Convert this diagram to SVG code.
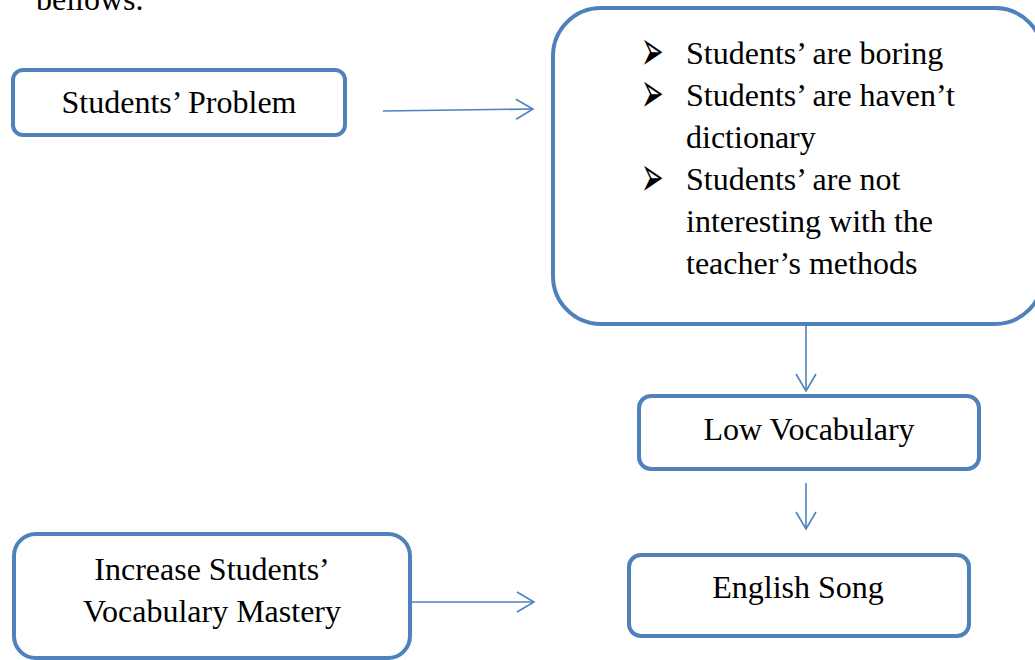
<svg xmlns="http://www.w3.org/2000/svg" width="1035" height="660" viewBox="0 0 1035 660">
<style>
.box{fill:#fff;stroke:#4F81BD;stroke-width:4}
.t{font-family:"Liberation Serif","Times New Roman",serif;font-size:32px;fill:#000}
.c{text-anchor:middle}
.b{font-family:"DejaVu Sans",sans-serif;font-size:27px;fill:#000}
.con{stroke:#4F81BD;stroke-width:1.6;fill:none}
</style>
<defs>
<marker id="ah" markerUnits="userSpaceOnUse" markerWidth="20" markerHeight="24" refX="17" refY="10" orient="auto" overflow="visible">
<path d="M0,0 L17,10 L0,20" fill="none" stroke="#4F81BD" stroke-width="1.6"/>
</marker>
</defs>
<rect width="1035" height="660" fill="#fff"/>
<text class="t" x="36" y="10">bellows.</text>
<g id="connectors">
<line class="con" x1="383" y1="111" x2="533" y2="109" marker-end="url(#ah)"/>
<line class="con" x1="806" y1="325" x2="806" y2="391" marker-end="url(#ah)"/>
<line class="con" x1="806" y1="483" x2="806" y2="529" marker-end="url(#ah)"/>
<line class="con" x1="412" y1="602" x2="534" y2="602" marker-end="url(#ah)"/>
</g>
<g id="students-problem">
<rect class="box" x="13" y="70" width="332" height="65" rx="10"/>
<text class="t c" x="179" y="113">Students’ Problem</text>
</g>
<g id="problems-list">
<rect class="box" x="553" y="8" width="490" height="316" rx="48"/>
<text class="b" transform="translate(641,70) scale(1,2.1)">➢</text>
<text class="b" transform="translate(641,112) scale(1,2.1)">➢</text>
<text class="b" transform="translate(641,196) scale(1,2.1)">➢</text>
<text class="t" x="686" y="64">Students’ are boring</text>
<text class="t" x="686" y="106">Students’ are haven’t</text>
<text class="t" x="686" y="148">dictionary</text>
<text class="t" x="686" y="190">Students’ are not</text>
<text class="t" x="686" y="232">interesting with the</text>
<text class="t" x="686" y="274">teacher’s methods</text>
</g>
<g id="low-vocabulary">
<rect class="box" x="639" y="396" width="340" height="73" rx="12"/>
<text class="t c" x="809" y="440">Low Vocabulary</text>
</g>
<g id="english-song">
<rect class="box" x="629" y="555" width="340" height="81" rx="12"/>
<text class="t c" x="798" y="598">English Song</text>
</g>
<g id="increase-vocabulary">
<rect class="box" x="14" y="534" width="396" height="124" rx="22"/>
<text class="t c" x="212" y="580">Increase Students’</text>
<text class="t c" x="212" y="622">Vocabulary Mastery</text>
</g>
</svg>
